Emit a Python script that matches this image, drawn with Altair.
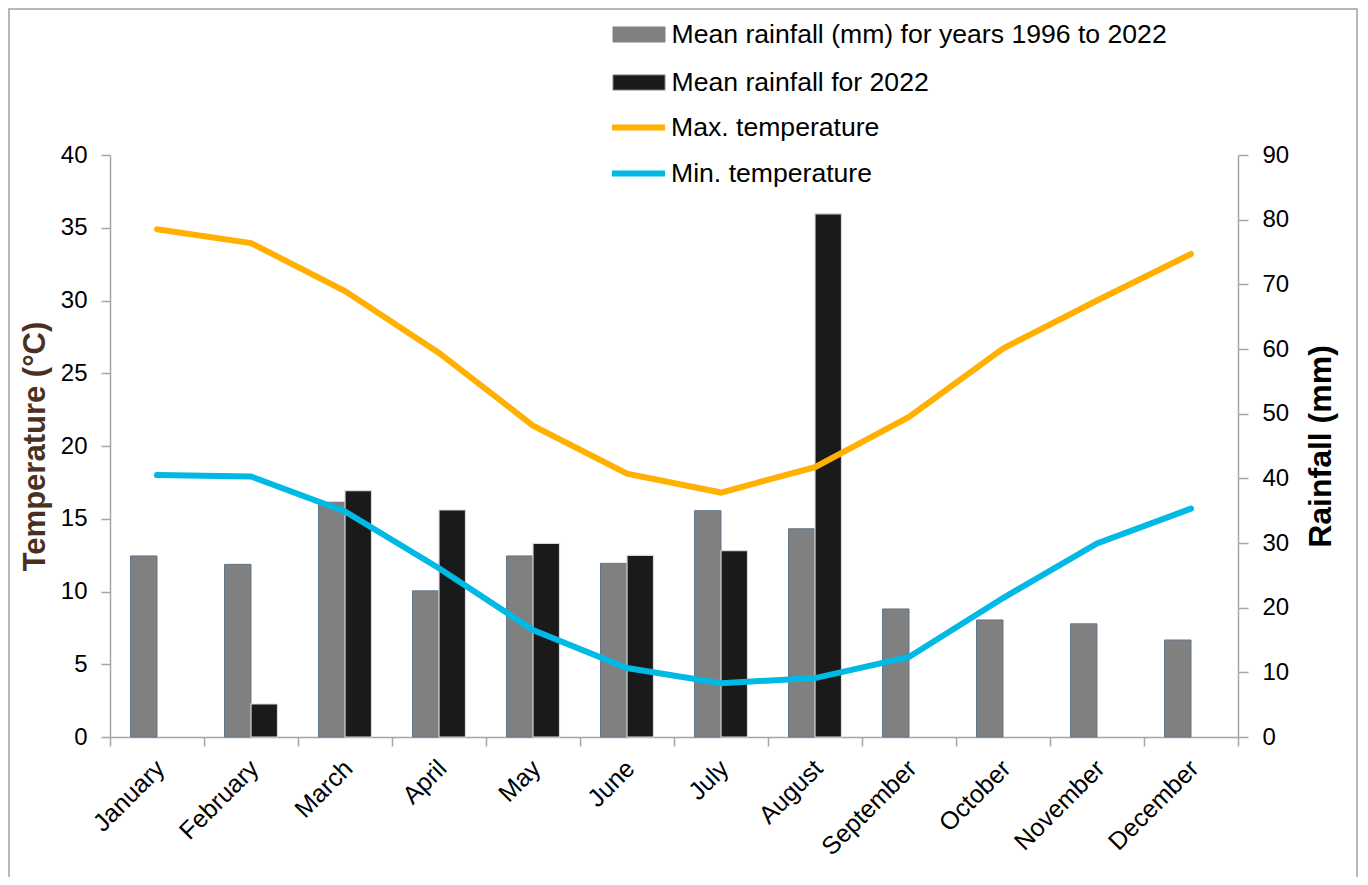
import altair as alt
import pandas as pd

months = ["January", "February", "March", "April", "May", "June", "July",
          "August", "September", "October", "November", "December"]
rain_mean = [28.0, 26.7, 36.3, 22.6, 28.0, 26.85, 35.0, 32.2, 19.8, 18.1, 17.5, 15.0]
rain_2022 = [None, 5.1, 38.1, 35.1, 29.95, 28.1, 28.8, 80.9, None, None, None, None]
temp_max = [34.9, 33.95, 30.65, 26.4, 21.4, 18.1, 16.8, 18.55, 22.0, 26.7, 30.0, 33.2]
temp_min = [18.0, 17.9, 15.5, 11.6, 7.35, 4.74, 3.7, 4.05, 5.5, 9.55, 13.3, 15.7]

S_MEAN = "Mean rainfall (mm) for years 1996 to 2022"
S_2022 = "Mean rainfall for 2022"
S_MAX = "Max. temperature"
S_MIN = "Min. temperature"

FONT = "Liberation Sans"
AXIS_GRAY = "#a6a6a6"

rain_rows = []
for i, m in enumerate(months):
    rain_rows.append({"month": m, "idx": i, "series": S_MEAN, "rain": rain_mean[i]})
    if rain_2022[i] is not None:
        rain_rows.append({"month": m, "idx": i, "series": S_2022, "rain": rain_2022[i]})
rain_df = pd.DataFrame(rain_rows)

temp_rows = []
for i, m in enumerate(months):
    temp_rows.append({"month": m, "idx": i, "series": S_MAX, "temp": temp_max[i]})
    temp_rows.append({"month": m, "idx": i, "series": S_MIN, "temp": temp_min[i]})
temp_df = pd.DataFrame(temp_rows)

x_enc = alt.X(
    "month:N", sort=months,
    scale=alt.Scale(paddingInner=0, paddingOuter=0),
    axis=alt.Axis(title=None, labelAngle=315, labelAlign="right", labelBaseline="middle",
                  labelPadding=18, labelOffset=3, tickSize=9, tickBand="extent", labelFontSize=25),
)

xoff = alt.XOffset("series:N", scale=alt.Scale(domain=[S_MEAN, S_2022], paddingInner=0, paddingOuter=0.774))

y_rain = alt.Y(
    "rain:Q", scale=alt.Scale(domain=[0, 90], nice=False),
    axis=alt.Axis(orient="right", values=list(range(0, 91, 10)), title="Rainfall (mm)",
                  titleAngle=270, titleX=82, titleBaseline="middle", titleFontSize=32,
                  titleFontWeight="bold", titleColor="#000000", tickSize=10, labelPadding=14,
                  labelFontSize=24, grid=False),
)

bar_path = "M-1,-0.29H1V0.29H-1Z"
fill_enc = alt.Fill(
    "series:N",
    scale=alt.Scale(domain=[S_MEAN, S_2022], range=["#808080", "#1a1a1a"]),
    legend=alt.Legend(title=None, orient="none", legendX=502.5, legendY=-147, padding=0,
                      symbolType=bar_path, symbolSize=2704, symbolStrokeWidth=1,
                      symbolStrokeColor="#7a8590", labelFontSize=26.6, labelOffset=6,
                      rowPadding=7, labelLimit=700, labelColor="#000000", labelFont=FONT),
)

bars_mean = alt.Chart(rain_df).transform_filter(alt.datum.series == S_MEAN).mark_bar(
    stroke="#62768a", strokeWidth=1
).encode(x=x_enc, xOffset=xoff, y=y_rain, fill=fill_enc)

bars_2022 = alt.Chart(rain_df).transform_filter(alt.datum.series == S_2022).mark_bar(
    stroke="#d9d9d9", strokeWidth=1.2
).encode(x=x_enc, xOffset=xoff, y=y_rain, fill=fill_enc)

bars = alt.layer(bars_mean, bars_2022)

lines = alt.Chart(temp_df).mark_line(strokeWidth=6, strokeCap="round").encode(
    x=x_enc,
    y=alt.Y("temp:Q", scale=alt.Scale(domain=[0, 40], nice=False),
            axis=alt.Axis(orient="left", values=list(range(0, 41, 5)), title="Temperature (°C)",
                          titleX=-75, titleBaseline="middle", titleFontSize=31,
                          titleFontWeight="bold", titleColor="#4a3020", tickSize=9,
                          labelPadding=14, labelFontSize=24, grid=False)),
    stroke=alt.Stroke(
        "series:N",
        scale=alt.Scale(domain=[S_MAX, S_MIN], range=["#FFB000", "#00B9E4"]),
        legend=alt.Legend(title=None, orient="none", legendX=499, legendY=-57, padding=0,
                          symbolType="stroke", symbolSize=2809, symbolStrokeWidth=6,
                          labelFontSize=26.6, labelOffset=3, rowPadding=2, labelLimit=700,
                          labelColor="#000000", labelFont=FONT),
    ),
    order=alt.Order("idx:Q"),
)

frame = alt.Chart(pd.DataFrame({"a": [0]})).mark_rect(
    filled=False, stroke="#a0a0a0", strokeWidth=1.5
).encode(x=alt.value(-101), x2=alt.value(1247), y=alt.value(-146), y2=alt.value(745))

chart = alt.layer(frame, bars, lines).resolve_scale(y="independent").properties(
    width=1128, height=582,
    padding={"left": 102, "top": 147, "right": 122, "bottom": 140},
    autosize=alt.AutoSizeParams(type="none"),
).configure(font=FONT).configure_view(stroke=None).configure_axis(
    domainColor=AXIS_GRAY, tickColor=AXIS_GRAY, domainWidth=1.5, tickWidth=1.5,
    labelColor="#000000", labelFont=FONT, titleFont=FONT, grid=False,
)

chart.save("out.html", embed_options={"renderer": "svg", "actions": False})
